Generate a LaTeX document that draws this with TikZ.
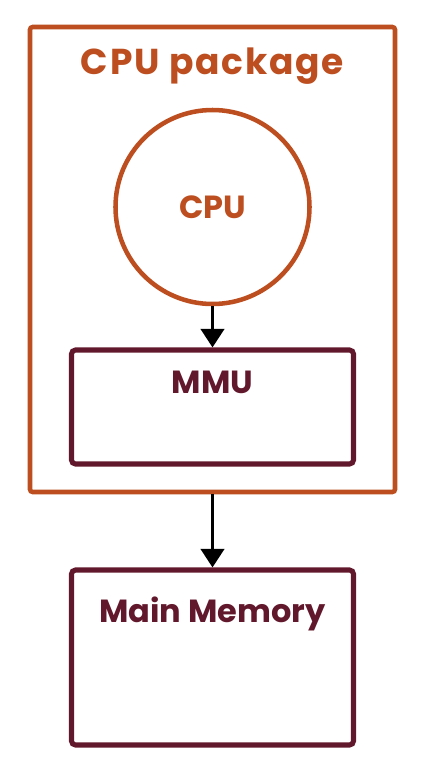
\documentclass[tikz,border=0pt]{standalone}
\usepackage{fontspec}
\setmainfont{Poppins}
\usetikzlibrary{arrows.meta}

\definecolor{pkgorange}{RGB}{188,78,32}
\definecolor{memmaroon}{RGB}{98,24,44}

\tikzset{every picture/.style={line width=0.75pt}}
\tikzset{
	pkgbox/.style={draw=pkgorange, line width=3.4pt, rounded corners=2pt, minimum width=273.75pt, minimum height=348.75pt},
	cpucirc/.style={draw=pkgorange, line width=3.4pt, circle, minimum size=145.5pt, text=pkgorange, font=\fontsize{24}{28}\selectfont\bfseries},
	membox/.style={draw=memmaroon, line width=3.8pt, rounded corners=3pt, minimum width=211.5pt},
	boxtitle/.style={anchor=base, font=\fontsize{24}{28}\selectfont\bfseries},
	flow/.style={draw=black, line width=2.6pt, -{Triangle[width=17.5pt,length=14pt]}}
}

\begin{document}
\begin{tikzpicture}[x=0.75pt,y=0.75pt,yscale=-1,xscale=1]
	\useasboundingbox (0,0) rectangle (423,772);

	% CPU package
	\node [pkgbox, label={[boxtitle, text=pkgorange, yshift=-37.5pt, font=\fontsize{27}{32}\selectfont\bfseries]north:\addfontfeature{LetterSpace=5}CPU package}] (pkg) at (212.5,259.5) {};
	% CPU
	\node [cpucirc] (cpu) at (212.5,207) {CPU};
	% MMU
	\node [membox, minimum height=85.5pt, label={[boxtitle, text=memmaroon, yshift=-34.5pt]north:MMU}] (mmu) at (212.5,407) {};
	% Main Memory
	\node [membox, minimum height=131.25pt, label={[boxtitle, text=memmaroon, yshift=-41.25pt]north:Main Memory}] (mem) at (212.5,657.5) {};

	% arrows
	\draw [flow] (cpu) -- (mmu);
	\draw [flow] (pkg.south) -- (mem.north);

\end{tikzpicture}
\end{document}
